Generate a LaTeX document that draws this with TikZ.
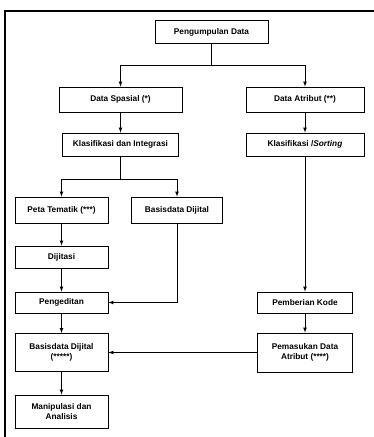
\documentclass[tikz,border=0pt]{standalone}
\usepackage{fontspec}
\setmainfont{Liberation Sans}
\usepackage{tikz}
\usetikzlibrary{arrows,positioning}

\begin{document}
\begin{tikzpicture}[
    x=1pt, y=-1pt,
    box/.style={draw, line width=0.8pt, align=center, inner sep=1pt,
        font=\fontsize{8.3}{9.6}\selectfont\bfseries},
    link/.style={draw, ->, >=latex, line width=0.7pt}
]
\useasboundingbox (0,0) rectangle (374,437);
\fill[white] (0,0) rectangle (374,437);
\draw[line width=1.8pt] (374,11) -- (5,11) -- (5,437);

\node[box, minimum width=123pt, minimum height=25pt] (spasial) at (120.5,99.5) {Data Spasial (*)};
\node[box, minimum width=113pt, minimum height=23pt] (pengumpulan) at (211.5,32) {Pengumpulan Data};
\node[box, minimum width=118pt, minimum height=25pt] (atribut) at (305,99.5) {Data Atribut (**)};
\node[box, minimum width=116pt, minimum height=23pt] (klasint) at (120.5,144.5) {Klasifikasi dan Integrasi};
\node[box, minimum width=118pt, minimum height=23pt] (sorting) at (305,144.5) {Klasifikasi /\textit{Sorting}};
\node[box, minimum width=93pt, minimum height=26pt] (peta) at (61.5,210) {Peta Tematik (***)};
\node[box, minimum width=91pt, minimum height=26pt] (basisdata) at (177,210) {Basisdata Dijital};
\node[box, minimum width=93pt, minimum height=22pt] (dijitasi) at (61.5,257) {Dijitasi};
\node[box, minimum width=93pt, minimum height=21pt] (pengeditan) at (61.5,302.5) {Pengeditan};
\node[box, minimum width=95pt, minimum height=21pt] (kode) at (305,302.5) {Pemberian Kode};
\node[box, minimum width=93pt, minimum height=38pt] (basisdigital) at (61.5,352.5) {Basisdata Dijital\\(*****)};
\node[box, minimum width=95pt, minimum height=39pt] (pemasukan) at (305,352.5) {Pemasukan Data\\Atribut (****)};
\node[box, minimum width=93pt, minimum height=33pt] (manipulasi) at (61.5,411.5) {Manipulasi dan\\Analisis};

\draw[line width=0.7pt] (pengumpulan.south) -- ++(0,21.5) coordinate (split1);
\draw[link] (split1) -| (spasial.north);
\draw[link] (split1) -| (atribut.north);
\draw[link] (spasial) -- (klasint);
\draw[link] (atribut) -- (sorting);
\draw[line width=0.7pt] (klasint.south) -- ++(0,23) coordinate (split2);
\draw[link] (split2) -| (peta.north);
\draw[link] (split2) -| (basisdata.north);
\draw[link] (peta) -- (dijitasi);
\draw[link] (dijitasi) -- (pengeditan);
\draw[link] (basisdata.south) |- (pengeditan.east);
\draw[link] (sorting) -- (kode);
\draw[link] (kode) -- (pemasukan);
\draw[link] (pemasukan.west) -- (basisdigital.east);
\draw[link] (pengeditan) -- (basisdigital);
\draw[link] (basisdigital) -- (manipulasi);

\end{tikzpicture}
\end{document}
